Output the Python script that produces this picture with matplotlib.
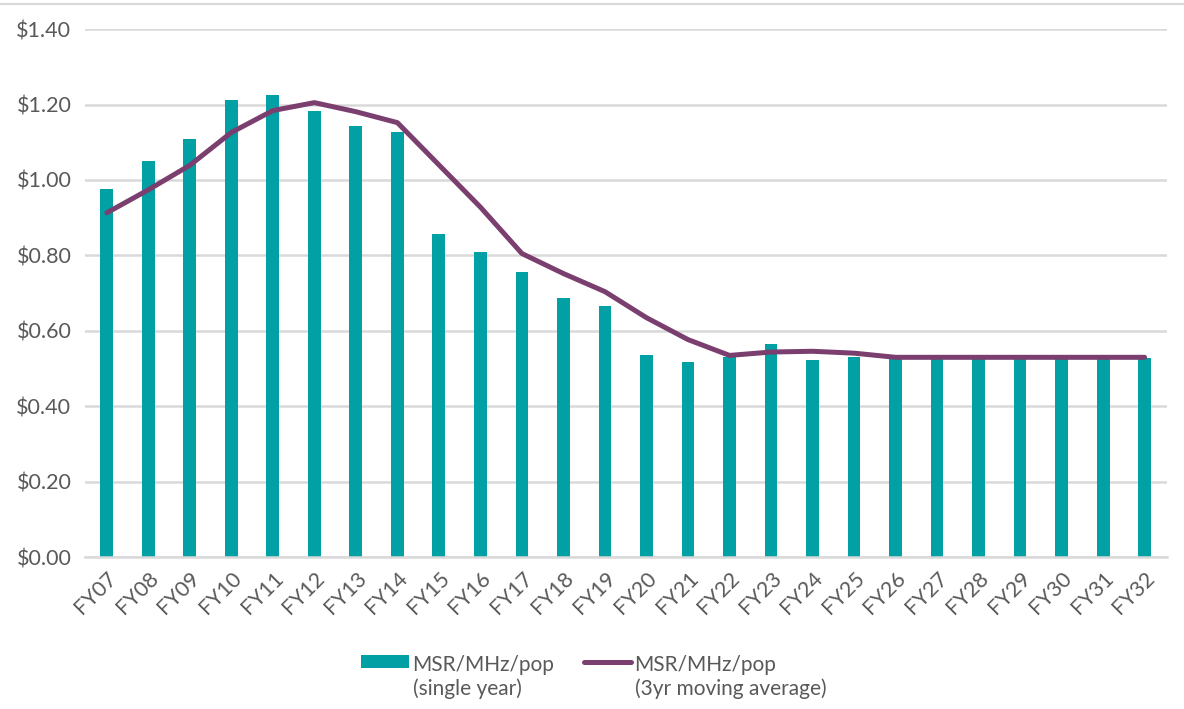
import numpy as np
import matplotlib.pyplot as plt
from matplotlib.ticker import FuncFormatter

plt.rcParams['font.family'] = ['Lato', 'DejaVu Sans']

years = ['FY07', 'FY08', 'FY09', 'FY10', 'FY11', 'FY12', 'FY13', 'FY14', 'FY15',
         'FY16', 'FY17', 'FY18', 'FY19', 'FY20', 'FY21', 'FY22', 'FY23', 'FY24',
         'FY25', 'FY26', 'FY27', 'FY28', 'FY29', 'FY30', 'FY31', 'FY32']
single_year = [0.977, 1.051, 1.108, 1.211, 1.225, 1.184, 1.144, 1.128, 0.856,
               0.808, 0.755, 0.688, 0.667, 0.537, 0.518, 0.530, 0.564, 0.523,
               0.531, 0.528, 0.528, 0.528, 0.528, 0.528, 0.528, 0.528]
moving_avg = [0.913, 0.974, 1.039, 1.126, 1.184, 1.205, 1.181, 1.152, 1.040,
              0.928, 0.805, 0.752, 0.704, 0.635, 0.577, 0.535, 0.544, 0.546,
              0.541, 0.530, 0.530, 0.530, 0.530, 0.530, 0.530, 0.530]

teal = '#00A0A4'
purple = '#7B3F6F'
grey = '#595959'

fig = plt.figure(figsize=(11.84, 7.09), dpi=100)
ax = fig.add_axes([0.072, 0.214, 0.914, 0.745])

x = np.arange(len(years))
bars = ax.bar(x, single_year, width=0.31, color=teal, zorder=2)
line, = ax.plot(x, moving_avg, color=purple, lw=3.6, zorder=3, solid_capstyle='round')

ax.set_ylim(0, 1.4)
ax.set_xlim(-0.52, 25.55)
ax.set_yticks(np.arange(0, 1.41, 0.2))
ax.yaxis.set_major_formatter(FuncFormatter(lambda v, p: f'${v:.2f}'))
ax.grid(axis='y', color='#D9D9D9', lw=1.8, zorder=0)
ax.set_axisbelow(True)
for s in ['top', 'right', 'left']:
    ax.spines[s].set_visible(False)
ax.spines['bottom'].set_color('#D9D9D9')
ax.spines['bottom'].set_linewidth(1.8)

ax.set_xticks(x)
ax.set_xticklabels(years, rotation=45, ha='right', rotation_mode='anchor')
ax.tick_params(axis='both', length=0, labelsize=15.5, labelcolor=grey)
ax.tick_params(axis='x', pad=8)
ax.tick_params(axis='y', pad=10)

leg = ax.legend([bars, line],
                ['MSR/MHz/pop\n(single year)', 'MSR/MHz/pop\n(3yr moving average)'],
                loc='upper center', bbox_to_anchor=(0.47, -0.15), ncol=2, frameon=False,
                fontsize=15, labelcolor=grey, handlelength=2.3, handletextpad=0.15,
                columnspacing=1.4, handleheight=0.6)
# put handles level with the first line of each label
for col in leg._legend_handle_box.get_children():
    for row in col.get_children():
        row.align = 'top'

# thin border line along the top of the chart area
fig.add_artist(plt.Line2D([0, 1], [0.994, 0.994], color='#D9D9D9', lw=1.5))

fig.savefig('out.png', dpi=100)
